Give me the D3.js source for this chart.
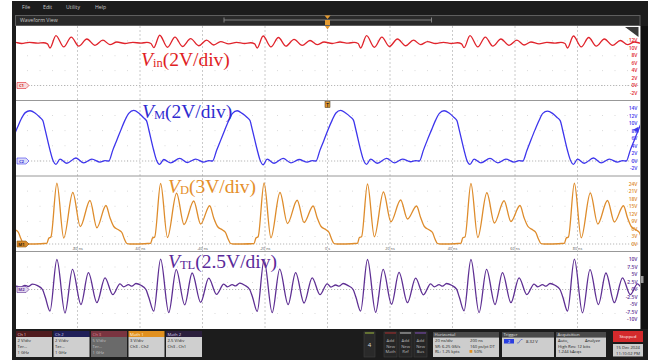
<!DOCTYPE html>
<html><head><meta charset="utf-8">
<script src="https://cdn.jsdelivr.net/npm/d3@7"></script>
<style>body{margin:0;background:#fff;}svg{display:block;}</style>
</head><body>
<svg id="scope" width="664" height="362"></svg>
<script>
// ---- time base ----
const timeTicks = [-80, -60, -40, -20, 0, 20, 40, 60, 80];
const timeTickLabels = ["-80 ns", "-60 ns", "-40 ns", "-20 ns", "0 s", "20 ns", "40 ns", "60 ns", "80 ns"];
// start of each switching cycle (ns), taken at the main V_D peak
const cycleStarts = [-119.7, -86.6, -53.4, -20.3, 12.8, 45.9, 79.0, 112.1];

// ---- V_in (Ch1) ----
const vinOffsets = [-2.2, -0.3, 2.2, 4.6, 7.0, 9.6, 12.2, 14.7, 17.0, 19.2, 21.8, 24.3, 26.9, 28.8, 30.1];
const vinCycles = [
  [10.1, 13.2, 10.3, 12.8, 10.5, 12.4, 10.7, 12.0, 10.9, 11.6, 11.2, 11.5, 11.3, 11.4, 11.1],
  [10.0, 13.3, 10.3, 12.9, 10.5, 12.4, 10.7, 12.1, 10.9, 11.6, 11.2, 11.5, 11.3, 11.5, 11.2],
  [10.1, 13.4, 10.2, 12.9, 10.4, 12.5, 10.6, 12.1, 10.8, 11.7, 11.1, 11.5, 11.2, 11.4, 11.1],
  [10.0, 13.2, 10.3, 12.8, 10.5, 12.3, 10.7, 12.0, 10.9, 11.6, 11.2, 11.6, 11.3, 11.5, 11.2],
  [10.0, 13.3, 10.2, 12.9, 10.4, 12.4, 10.6, 12.1, 10.9, 11.7, 11.2, 11.5, 11.2, 11.4, 11.1],
  [10.1, 13.3, 10.3, 12.9, 10.5, 12.4, 10.7, 12.1, 10.8, 11.6, 11.1, 11.5, 11.3, 11.5, 11.2],
  [10.0, 13.2, 10.3, 12.8, 10.5, 12.4, 10.7, 12.0, 10.9, 11.6, 11.2, 11.5, 11.3, 11.4, 11.1],
  [10.1, 13.3, 10.2, 12.9, 10.4, 12.4, 10.7, 12.1, 10.9, 11.6, 11.2, 11.5, 11.3, 11.5, 11.2]
];
const vinTickValues = [12, 10, 8, 6, 4, 2, 0, -2];

// ---- V_M (Ch2) ----
const vmOffsets = [-8.6, -7.0, -5.4, -4.5, -3.8, -2.2, -1.3, -0.3, 1.0, 3.2, 6.1, 8.6, 11.2, 13.8, 15.4, 16.6, 17.9, 19.2, 20.5, 21.8, 23.0];
const vmCycles = [
  [13.3, 12.7, 11.6, 10.8, 8.4, 2.9, 0.3, -0.9, 0.5, -0.6, 0.7, -0.5, 0.5, -0.3, 0.1, 0.0, 3.4, 6.4, 9.0, 11.4, 12.9],
  [13.4, 12.8, 11.6, 10.8, 8.5, 2.9, 0.3, -0.9, 0.5, -0.6, 0.8, -0.5, 0.5, -0.3, 0.1, 0.0, 2.9, 5.6, 8.3, 10.9, 12.7],
  [13.5, 12.8, 11.5, 10.7, 8.4, 2.8, 0.2, -0.9, 0.4, -0.5, 0.7, -0.4, 0.5, -0.3, 0.1, 0.0, 2.8, 5.5, 8.2, 10.8, 12.7],
  [13.4, 12.7, 11.6, 10.8, 8.5, 3.0, 0.3, -1.0, 0.5, -0.6, 0.7, -0.5, 0.4, -0.3, 0.1, 0.0, 2.9, 5.6, 8.4, 10.9, 12.8],
  [13.5, 12.8, 11.7, 10.9, 8.6, 2.9, 0.3, -0.9, 0.5, -0.6, 0.7, -0.5, 0.5, -0.2, 0.1, 0.0, 2.9, 5.7, 8.3, 10.9, 12.7],
  [13.4, 12.8, 11.6, 10.8, 8.5, 2.9, 0.2, -0.9, 0.5, -0.5, 0.7, -0.5, 0.5, -0.3, 0.1, 0.0, 2.8, 5.6, 8.3, 10.8, 12.7],
  [13.3, 12.7, 11.5, 10.7, 8.4, 2.8, 0.3, -0.9, 0.5, -0.6, 0.8, -0.5, 0.5, -0.3, 0.1, 0.0, 2.9, 5.6, 8.3, 10.9, 12.8],
  [13.4, 12.8, 11.6, 10.8, 8.5, 2.9, 0.3, -0.9, 0.5, -0.6, 0.7, -0.5, 0.5, -0.3, 0.1, 0.0, 2.9, 5.6, 8.3, 10.9, 12.7]
];
const vmTickValues = [14, 12, 10, 8, 6, 4, 2, 0, -2];

// ---- V_D (Math 1) ----
const vdOffsets = [-7.0, -3.2, -2.6, -1.9, 0, 2.2, 5.1, 7.5, 10.6, 12.8, 15.7, 17.0, 18.2, 19.8, 20.8, 21.6, 22.4, 23.4];
const vdCycles = [
  [0.0, 0.3, 2.3, 2.8, 24.1, 2.7, 20.4, 8.1, 17.3, 8.6, 15.3, 10.6, 7.1, 5.7, 4.6, 2.1, 0.2, 0.0],
  [0.0, 0.3, 2.3, 2.8, 24.3, 2.4, 20.6, 7.0, 17.4, 6.5, 15.4, 10.5, 7.0, 5.6, 4.6, 2.0, 0.2, 0.0],
  [0.0, 0.3, 2.4, 2.8, 24.2, 2.6, 20.3, 7.8, 17.2, 8.0, 15.3, 10.4, 7.0, 5.6, 4.5, 2.0, 0.2, 0.0],
  [0.0, 0.2, 2.4, 2.9, 24.4, 2.5, 20.6, 8.2, 17.5, 8.6, 15.2, 10.5, 7.1, 5.7, 4.6, 2.0, 0.2, 0.0],
  [0.0, 0.3, 2.6, 2.9, 24.0, 2.9, 20.8, 8.9, 17.6, 10.0, 15.2, 10.6, 7.0, 5.6, 4.6, 2.0, 0.2, 0.0],
  [0.0, 0.3, 2.5, 2.8, 24.2, 2.6, 20.5, 8.4, 17.3, 9.0, 15.4, 10.5, 7.1, 5.6, 4.5, 2.0, 0.2, 0.0],
  [0.0, 0.3, 2.4, 2.8, 24.3, 2.5, 20.4, 8.0, 17.4, 8.8, 15.3, 10.5, 7.0, 5.6, 4.6, 2.1, 0.2, 0.0],
  [0.0, 0.3, 2.4, 2.8, 24.2, 2.6, 20.5, 8.0, 17.3, 8.5, 15.3, 10.5, 7.0, 5.6, 4.6, 2.0, 0.2, 0.0]
];
const vdTickValues = [24, 21, 18, 15, 12, 9, 6, 3, 0];

// ---- V_TL (Math 2) ----
const vtlOffsets = [-2.2, 0, 2.6, 5.0, 7.7, 10.1, 12.8, 15.4, 17.9, 20.2, 21.4, 22.9, 24.0, 25.3, 26.9, 28.5, 29.4];
const vtlCycles = [
  [-7.1, 9.9, -7.6, 6.6, -5.0, 5.5, -4.4, 3.9, -1.7, 1.1, 0.8, 1.4, 1.0, 1.8, 1.3, 0.0, -2.6],
  [-7.2, 10.0, -7.8, 6.7, -5.0, 5.6, -4.4, 3.9, -1.7, 1.9, 0.9, 1.6, 1.1, 2.0, 1.4, 0.0, -2.6],
  [-7.2, 10.1, -7.7, 6.6, -5.1, 5.5, -4.3, 3.8, -1.6, 1.8, 0.9, 1.6, 1.2, 2.1, 1.4, 0.0, -2.5],
  [-7.3, 9.9, -7.7, 6.8, -5.0, 5.6, -4.5, 3.9, -1.7, 1.9, 0.8, 1.5, 1.1, 2.0, 1.3, 0.0, -2.6],
  [-7.2, 10.0, -7.6, 6.7, -4.9, 5.7, -4.4, 3.8, -1.8, 1.9, 0.9, 1.6, 1.1, 2.0, 1.4, 0.1, -2.6],
  [-7.1, 10.0, -7.7, 6.7, -5.0, 5.6, -4.4, 3.9, -1.7, 1.8, 0.9, 1.6, 1.1, 2.0, 1.4, 0.0, -2.5],
  [-7.2, 10.1, -7.8, 6.6, -5.0, 5.5, -4.4, 3.9, -1.7, 1.9, 0.9, 1.5, 1.1, 2.0, 1.4, 0.0, -2.6],
  [-7.2, 10.0, -7.7, 6.7, -5.0, 5.6, -4.4, 3.9, -1.7, 1.9, 0.9, 1.6, 1.1, 2.0, 1.4, 0.0, -2.6]
];
const vtlTickValues = [10, 7.5, 5, 2.5, 0, -2.5, -5, -7.5, -10];

// ---- layout ----
const svg = d3.select("#scope");
const plotL = 16, plotR = 640;
const x = d3.scaleLinear().domain([-100, 100]).range([15, 640]);
const divPx = 7.5;
const SANS = "'Open Sans', 'DejaVu Sans', sans-serif";
const SERIF = "'Liberation Serif', 'Times New Roman', serif";

const panels = [
  {id: "vin", top: 26, bottom: 100.5, zero: 85.5, vpd: 2, color: "#e0242c", ticks: vinTickValues,
   offsets: vinOffsets, cycles: vinCycles, badge: "C1", badgeFill: "#f7dcdc", badgeText: "#d02a2a",
   label: {x: 141, y: 66, sub: "in", scale: "(2V/div)", color: "#e01e24"}},
  {id: "vm", top: 100.5, bottom: 176, zero: 161, vpd: 2, color: "#3d35ec", ticks: vmTickValues,
   offsets: vmOffsets, cycles: vmCycles, badge: "C2", badgeFill: "#dcdcf8", badgeText: "#3a36d8",
   label: {x: 142, y: 118, sub: "M", scale: "(2V/div)", color: "#2f2bd0"}},
  {id: "vd", top: 176, bottom: 251.5, zero: 244, vpd: 3, color: "#de8c2c", ticks: vdTickValues,
   offsets: vdOffsets, cycles: vdCycles, badge: "M1", badgeFill: "#d98a2a", badgeText: "#3a2a10",
   label: {x: 168, y: 193, sub: "D", scale: "(3V/div)", color: "#e58f2a"}},
  {id: "vtl", top: 251.5, bottom: 329, zero: 289.5, vpd: 2.5, color: "#5e2f93", ticks: vtlTickValues,
   offsets: vtlOffsets, cycles: vtlCycles, badge: "M2", badgeFill: "#e2d6ee", badgeText: "#6a3a9a",
   label: {x: 168, y: 268, sub: "TL", scale: "(2.5V/div)", color: "#5a2a9a"}}
];
panels.forEach(p => {
  p.y = d3.scaleLinear().domain([0, p.vpd]).range([p.zero, p.zero - divPx]);
});

// ---- instrument frame ----
svg.append("rect").attr("x", 12).attr("y", 1).attr("width", 636).attr("height", 359).attr("fill", "#1c1c1c");
svg.append("rect").attr("x", 640).attr("y", 26).attr("width", 8).attr("height", 303).attr("fill", "#101010");
svg.append("line").attr("x1", 640.5).attr("x2", 640.5).attr("y1", 26).attr("y2", 329).attr("stroke", "#7a7a7a").attr("stroke-width", 1);
svg.append("rect").attr("x", 641).attr("y", 276).attr("width", 2.5).attr("height", 7).attr("fill", "#9a9a9a");

// menu bar
const menu = [["File", 22], ["Edit", 43], ["Utility", 66], ["Help", 95]];
svg.selectAll("text.menu").data(menu).join("text").attr("class", "menu")
  .attr("x", d => d[1]).attr("y", 8.5).text(d => d[0])
  .attr("font-family", SANS).attr("font-size", 5.2).attr("fill", "#c8c8c8");

// waveform view bar
svg.append("rect").attr("x", 15.5).attr("y", 15.5).attr("width", 624.5).attr("height", 10)
  .attr("fill", "#2a2a2a").attr("stroke", "#5e5e5e").attr("stroke-width", 1);
svg.append("text").attr("x", 20).attr("y", 22.3).text("Waveform View")
  .attr("font-family", SANS).attr("font-size", 5.2).attr("fill", "#c8c8c8");
svg.append("path").attr("d", "M224,17.5 V22.5 M224,20 H431.5 M431.5,17.5 V22.5")
  .attr("stroke", "#9a9a9a").attr("stroke-width", 0.8).attr("fill", "none");
// trigger position marker
const tx = x(0);
svg.append("path").attr("d", `M${tx - 3},15.5 L${tx + 3},15.5 L${tx},19 Z`).attr("fill", "#e59a2e");
svg.append("rect").attr("x", tx - 2.5).attr("y", 20).attr("width", 5).attr("height", 5).attr("fill", "#e59a2e");

// plot area
svg.append("rect").attr("x", plotL).attr("y", 26).attr("width", plotR - plotL).attr("height", 303).attr("fill", "#ffffff");

const defs = svg.append("defs");
panels.forEach(p => {
  defs.append("clipPath").attr("id", "clip-" + p.id).append("rect")
    .attr("x", plotL).attr("y", p.top).attr("width", plotR - plotL).attr("height", p.bottom - p.top);
});

const grid = svg.append("g");
// vertical graticule
grid.selectAll("line.v").data(timeTicks).join("line").attr("class", "v")
  .attr("x1", d => x(d)).attr("x2", d => x(d)).attr("y1", 26).attr("y2", 329)
  .attr("stroke", "#bdbdbd").attr("stroke-width", 0.8).attr("stroke-dasharray", "2,2");
// minor dots in each panel
const minorT = d3.range(-96, 100, 4).filter(t => t % 20 !== 0);
panels.forEach(p => {
  const rows = d3.range(2, 10, 2).map(k => p.top + k * (p.bottom - p.top) / 10);
  rows.forEach(ry => {
    grid.selectAll(null).data(minorT).join("rect")
      .attr("x", d => x(d) - 0.4).attr("y", ry - 0.4).attr("width", 0.8).attr("height", 0.8)
      .attr("fill", "#c4c4c4");
  });
  // ground reference
  grid.append("line").attr("x1", 28).attr("x2", plotR).attr("y1", p.zero).attr("y2", p.zero)
    .attr("stroke", "#9a9a9a").attr("stroke-width", 0.7).attr("stroke-dasharray", "1.2,1.8");
});
// panel separators
[100.5, 176, 251.5].forEach(yy => {
  grid.append("line").attr("x1", plotL).attr("x2", plotR).attr("y1", yy).attr("y2", yy)
    .attr("stroke", "#8c8c8c").attr("stroke-width", 0.9);
});

// time labels on the V_D slice
svg.selectAll("text.tt").data(timeTicks).join("text").attr("class", "tt")
  .attr("x", d => x(d)).attr("y", 250).attr("text-anchor", "middle")
  .text((d, i) => timeTickLabels[i])
  .attr("font-family", SANS).attr("font-size", 3.8).attr("fill", "#555");

// right-hand volt labels
panels.forEach(p => {
  svg.selectAll(null).data(p.ticks).join("text")
    .attr("x", 637.5).attr("y", d => p.y(d) + 1.8).attr("text-anchor", "end")
    .text(d => d + "V")
    .attr("font-family", SANS).attr("font-size", 5).attr("font-weight", 600).attr("fill", p.color);
});

// traces
panels.forEach(p => {
  const pts = cycleStarts.flatMap((c, i) => p.offsets.map((o, j) => [c + o, p.cycles[i][j]]));
  const line = d3.line().x(d => x(d[0])).y(d => p.y(d[1])).curve(d3.curveMonotoneX);
  svg.append("path").datum(pts).attr("d", line)
    .attr("clip-path", `url(#clip-${p.id})`)
    .attr("fill", "none").attr("stroke", p.color).attr("stroke-width", 1.3)
    .attr("stroke-linejoin", "round");
});

// ground badges
panels.forEach(p => {
  const yy = p.zero;
  svg.append("path").attr("d", `M17,${yy - 3} H26 L29,${yy} L26,${yy + 3} H17 Z`)
    .attr("fill", p.badgeFill).attr("stroke", p.id === "vd" ? "#8a5a1a" : p.color).attr("stroke-width", 0.6);
  svg.append("text").attr("x", 21.5).attr("y", yy + 1.6).attr("text-anchor", "middle").text(p.badge)
    .attr("font-family", SANS).attr("font-size", 4.2).attr("font-weight", 700).attr("fill", p.badgeText);
});

// trigger level arrow (Ch2) and trigger marker
svg.append("path").attr("d", `M633,${panels[1].y(8.32)} L638.5,${panels[1].y(8.32) - 3} L638.5,${panels[1].y(8.32) + 3} Z`).attr("fill", "#3d35ec");
svg.append("rect").attr("x", tx - 2.5).attr("y", 101.5).attr("width", 5).attr("height", 6)
  .attr("fill", "#e59a2e").attr("stroke", "#3a2a10").attr("stroke-width", 0.5);
svg.append("text").attr("x", tx).attr("y", 106.6).attr("text-anchor", "middle").text("T")
  .attr("font-family", SANS).attr("font-size", 4.5).attr("font-weight", 700).attr("fill", "#222");
svg.append("path").attr("d", `M${tx - 2.5},26 L${tx + 2.5},26 L${tx},29.5 Z`).attr("fill", "#e59a2e");
// settings handle at top right of first slice
svg.append("path").attr("d", "M625,27 L638.5,27 L638.5,37 Z").attr("fill", "#3a3a3a");

// trace names
panels.forEach(p => {
  const t = svg.append("text").attr("x", p.label.x).attr("y", p.label.y)
    .attr("font-family", SERIF).attr("font-size", 19.5).attr("fill", p.label.color);
  t.append("tspan").attr("font-style", "italic").text("V");
  t.append("tspan").attr("font-size", 12.5).attr("dy", 1).text(p.label.sub);
  t.append("tspan").attr("dy", -1).text(p.label.scale);
});

// ---- bottom status bar ----
const bar = svg.append("g").attr("font-family", SANS);
const chanBoxes = [
  {x: 16, head: "Ch 1", headFill: "#4f1b1e", headText: "#e8c8c8", body: "#cfcfcf", bodyText: "#222", lines: ["2 V/div", "Ter...", "1 GHz"]},
  {x: 53.5, head: "Ch 2", headFill: "#1f1f58", headText: "#c8c8ee", body: "#cfcfcf", bodyText: "#222", lines: ["2 V/div", "Ter...", "1 GHz"]},
  {x: 91, head: "Ch 3", headFill: "#7a3440", headText: "#d98a98", body: "#6a6a6a", bodyText: "#c4c4c4", lines: ["5 V/div", "Ter...", "1 GHz"]},
  {x: 128.5, head: "Math 1", headFill: "#e1901f", headText: "#fff5e0", body: "#cfcfcf", bodyText: "#222", lines: ["3 V/div", "Ch3 - Ch2"]},
  {x: 166, head: "Math 2", headFill: "#2b1f3c", headText: "#d8ccec", body: "#cfcfcf", bodyText: "#222", lines: ["2.5 V/div", "Ch3 - Ch1"]}
];
chanBoxes.forEach(b => {
  bar.append("rect").attr("x", b.x).attr("y", 331).attr("width", 36).attr("height", 6).attr("fill", b.headFill);
  bar.append("rect").attr("x", b.x).attr("y", 337).attr("width", 36).attr("height", 20).attr("fill", b.body);
  bar.append("text").attr("x", b.x + 1.5).attr("y", 335.6).text(b.head).attr("font-size", 4.2).attr("fill", b.headText);
  b.lines.forEach((l, i) => bar.append("text").attr("x", b.x + 1.5).attr("y", 342 + i * 6.2).text(l)
    .attr("font-size", 4.2).attr("fill", b.bodyText));
});

bar.append("rect").attr("x", 364).attr("y", 332).attr("width", 11).attr("height", 25).attr("fill", "#2a2a2a").attr("stroke", "#444").attr("stroke-width", 0.5);
bar.append("line").attr("x1", 365).attr("x2", 374).attr("y1", 333).attr("y2", 333).attr("stroke", "#a8c83c").attr("stroke-width", 0.9);
bar.append("text").attr("x", 369.5).attr("y", 347).attr("text-anchor", "middle").text("4").attr("font-size", 6).attr("fill", "#ddd");

const addBtns = [{x: 384, c: "#b83030", w: "Math"}, {x: 399, c: "#d8d8d8", w: "Ref"}, {x: 414, c: "#8a52c8", w: "Bus"}];
addBtns.forEach(b => {
  bar.append("rect").attr("x", b.x).attr("y", 332).attr("width", 13).attr("height", 25).attr("fill", "#262626").attr("stroke", "#444").attr("stroke-width", 0.5);
  bar.append("line").attr("x1", b.x + 1).attr("x2", b.x + 12).attr("y1", 333).attr("y2", 333).attr("stroke", b.c).attr("stroke-width", 0.9);
  ["Add", "New", b.w].forEach((t, i) => bar.append("text").attr("x", b.x + 6.5).attr("y", 342 + i * 5.5)
    .attr("text-anchor", "middle").text(t).attr("font-size", 4.2).attr("fill", "#b8b8b8"));
});

function infoBox(x0, w, title) {
  bar.append("rect").attr("x", x0).attr("y", 332).attr("width", w).attr("height", 5.5).attr("fill", "#4a4a4a");
  bar.append("rect").attr("x", x0).attr("y", 337.5).attr("width", w).attr("height", 19.5).attr("fill", "#cdcdcd");
  bar.append("text").attr("x", x0 + 1.5).attr("y", 336.2).text(title).attr("font-size", 4.3).attr("fill", "#e0e0e0");
}
function txt(x0, y0, s, opts = {}) {
  return bar.append("text").attr("x", x0).attr("y", y0).text(s).attr("font-size", opts.size || 4.2)
    .attr("fill", opts.fill || "#222").attr("text-anchor", opts.anchor || "start");
}
infoBox(433, 66, "Horizontal");
txt(435, 342, "20 ns/div"); txt(470, 342, "200 ns");
txt(435, 347.5, "SR: 6.25 GS/s"); txt(470, 347.5, "160 ps/pt DT");
txt(435, 353, "RL: 1.25 kpts");
bar.append("rect").attr("x", 469.5).attr("y", 350).attr("width", 2.8).attr("height", 2.8).attr("fill", "#e0901f");
txt(474, 353, "50%");

infoBox(502, 52, "Trigger");
bar.append("rect").attr("x", 504).attr("y", 339).attr("width", 10).attr("height", 4.5).attr("fill", "#2a3ee0");
txt(509, 342.6, "2", {fill: "#fff", anchor: "middle", size: 3.8});
bar.append("path").attr("d", "M517,343 H518.5 L521,339.5 H522.5").attr("stroke", "#3a50c8").attr("stroke-width", 0.6).attr("fill", "none");
txt(526, 342.6, "8.32 V");

infoBox(556, 50, "Acquisition");
txt(558, 342, "Auto,"); txt(585, 342, "Analyze");
txt(558, 347.5, "High Res: 12 bits");
txt(558, 353, "1.244 kAcqs");

bar.append("rect").attr("x", 613).attr("y", 331).attr("width", 30).attr("height", 11).attr("fill", "#d42a2c");
txt(628, 338, "Stopped", {fill: "#fff", anchor: "middle", size: 4.3});
bar.append("rect").attr("x", 613).attr("y", 344).attr("width", 30).attr("height", 12.5).attr("fill", "#cdcdcd");
txt(628, 349, "15 Dec 2024", {anchor: "middle", size: 4.2});
txt(628, 354.5, "11:10:02 PM", {anchor: "middle", size: 4.2});
</script>
</body></html>
